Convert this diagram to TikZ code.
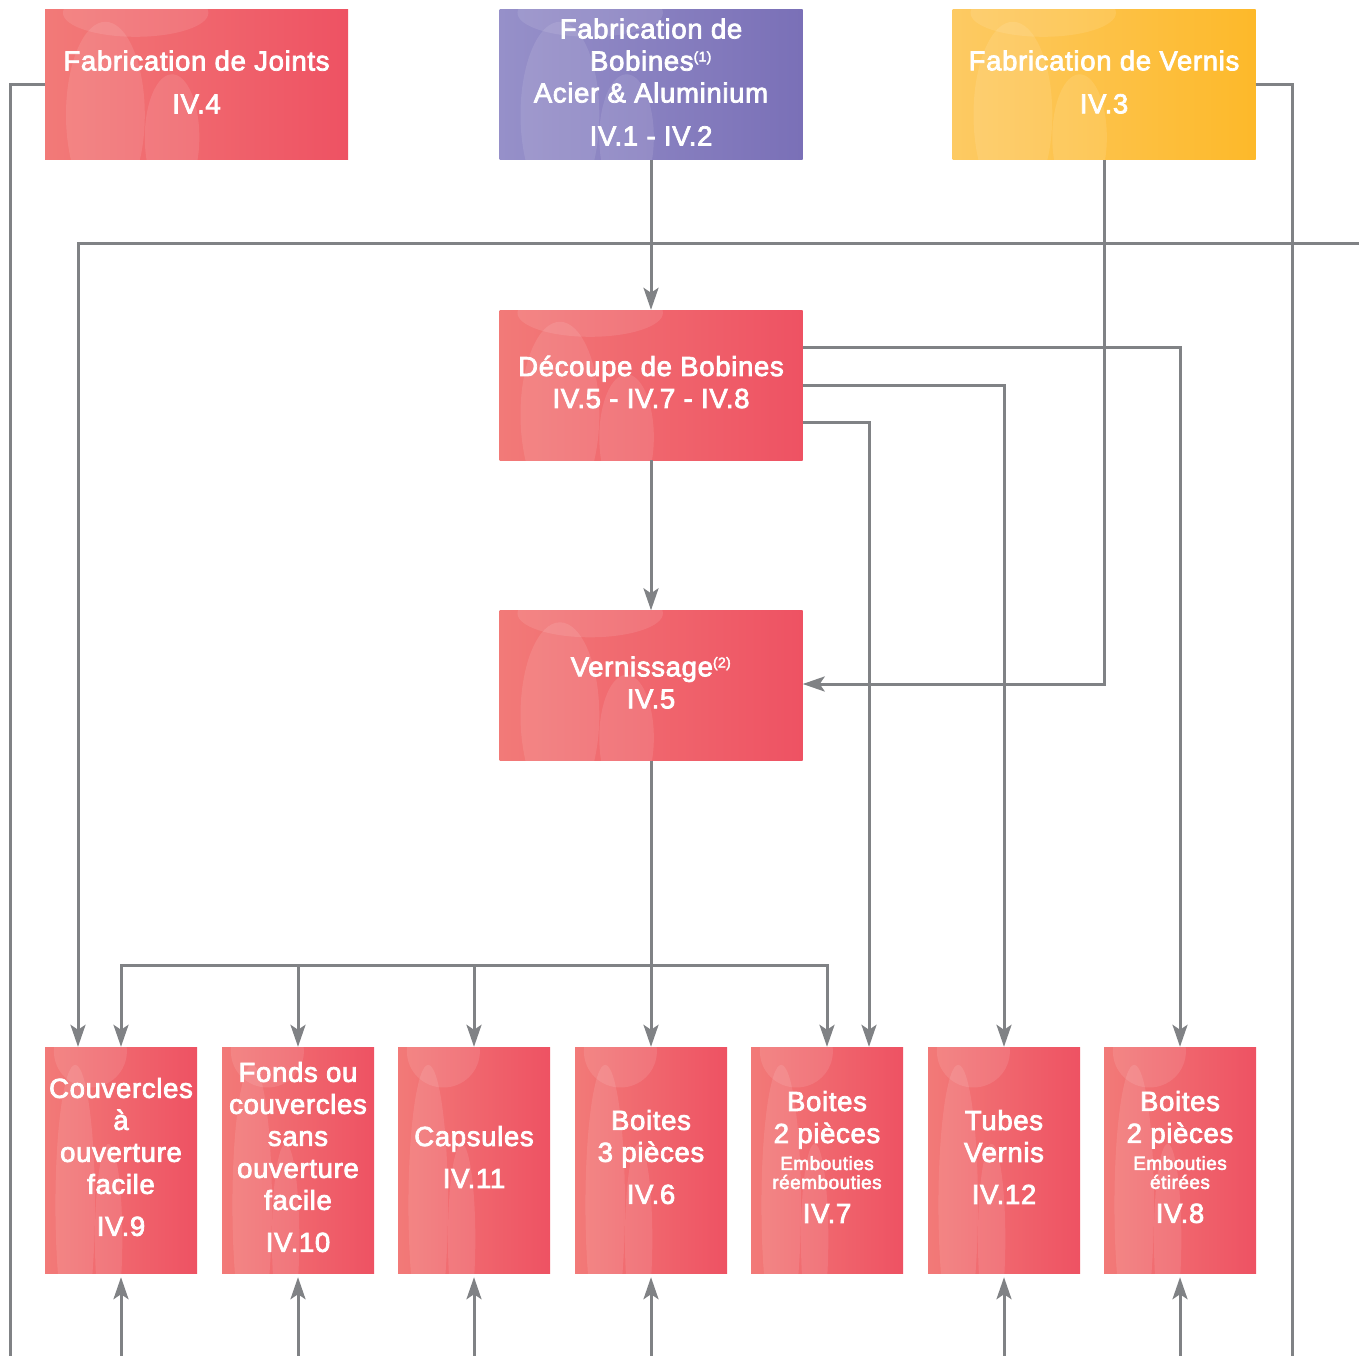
\documentclass[tikz,border=0pt]{standalone}
\usepackage{fontspec}
\setmainfont{Liberation Sans}
\newfontfamily\lab{Liberation Sans}[FakeBold=2.8, LetterSpace=2.5]
\usetikzlibrary{arrows.meta}
\definecolor{lin}{HTML}{808285}
\definecolor{redL}{HTML}{F27A78}
\definecolor{redR}{HTML}{EE5263}
\definecolor{purL}{HTML}{9690C9}
\definecolor{purR}{HTML}{7A70B7}
\definecolor{yelL}{HTML}{FDCA63}
\definecolor{yelR}{HTML}{FDB92A}
\tikzset{
  boxbase/.style={inner sep=0pt},
  redbox/.style={boxbase, shade, left color=redL, right color=redR},
  purbox/.style={boxbase, shade, left color=purL, right color=purR},
  yelbox/.style={boxbase, shade, left color=yelL, right color=yelR},
  wide/.style={minimum width=303pt, minimum height=150pt},
  tall/.style={minimum width=152pt, minimum height=226pt},
  txt/.style={inner sep=0pt, align=center, text=white,
    font=\lab\fontsize{27.5}{32}\selectfont},
  conn/.style={draw=lin, line width=3pt},
  arr/.style={conn, -{Stealth[length=22pt, width=15pt, inset=5pt]}},
  glow/.style={fill=white, opacity=0.10}
}
\newcommand{\smalltx}[1]{{\fontsize{19}{19}\selectfont #1}}
% texture: #1 node name, #2 width, #3 height
\newcommand{\texturebox}[3]{%
  \begin{scope}
    \clip (#1.north west) rectangle (#1.south east);
    \fill[glow] ([xshift=0.20*#2, yshift=-0.70*#3]#1.north west) ellipse [x radius=0.13*#2, y radius=0.62*#3];
    \fill[glow] ([xshift=0.42*#2, yshift=-0.85*#3]#1.north west) ellipse [x radius=0.09*#2, y radius=0.42*#3];
    \fill[glow] ([xshift=0.30*#2, yshift=-0.02*#3]#1.north west) ellipse [x radius=0.24*#2, y radius=0.16*#3];
  \end{scope}}
\begin{document}
\begin{tikzpicture}[x=1pt,y=-1pt]
\useasboundingbox (0,0) rectangle (1359,1356);
% top boxes
\node[redbox, wide] (joi) at (196.5,85) {};
\node[purbox, wide] (bob) at (651,85) {};
\node[yelbox, wide] (ver) at (1104,85) {};
\node[redbox, wide] (dec) at (651,385) {};
\node[redbox, wide] (vss) at (651,685.5) {};
% bottom boxes
\node[redbox, tall] (couv) at (121,1160) {};
\node[redbox, tall] (fond) at (298,1160) {};
\node[redbox, tall] (caps) at (474,1160) {};
\node[redbox, tall] (bt3) at (651,1160) {};
\node[redbox, tall] (bt7) at (827,1160) {};
\node[redbox, tall] (tub) at (1004,1160) {};
\node[redbox, tall] (bt8) at (1180,1160) {};
\foreach \n in {joi,bob,ver,dec,vss}{\texturebox{\n}{303pt}{150pt}}
\foreach \n in {couv,fond,caps,bt3,bt7,tub,bt8}{\texturebox{\n}{152pt}{226pt}}
% texts
\node[txt] (joi-t) at ([yshift=3pt]joi.center) {Fabrication de Joints\\[11pt]IV.4};
\node[txt] (bob-t) at ([yshift=3pt]bob.center) {Fabrication de\\Bobines\textsuperscript{\fontsize{14}{14}\selectfont(1)}\\Acier \& Aluminium\\[11pt]IV.1 - IV.2};
\node[txt] (ver-t) at ([yshift=3pt]ver.center) {Fabrication de Vernis\\[11pt]IV.3};
\node[txt] (dec-t) at ([yshift=3pt]dec.center) {Découpe de Bobines\\IV.5 - IV.7 - IV.8};
\node[txt] (vss-t) at ([yshift=3pt]vss.center) {Vernissage\textsuperscript{\fontsize{14}{14}\selectfont(2)}\\IV.5};
\node[txt] (couv-t) at ([yshift=3pt]couv.center) {Couvercles\\à\\ouverture\\facile\\[10pt]IV.9};
\node[txt] (fond-t) at ([yshift=3pt]fond.center) {Fonds ou\\couvercles\\sans\\ouverture\\facile\\[10pt]IV.10};
\node[txt] (caps-t) at ([yshift=3pt]caps.center) {Capsules\\[10pt]IV.11};
\node[txt] (bt3-t) at ([yshift=3pt]bt3.center) {Boites\\3 pièces\\[10pt]IV.6};
\node[txt] (bt7-t) at ([yshift=3pt]bt7.center) {Boites\\2 pièces\\[-5pt]\smalltx{Embouties}\\[-13pt]\smalltx{réembouties}\\[2pt]IV.7};
\node[txt] (tub-t) at ([yshift=3pt]tub.center) {Tubes\\Vernis\\[10pt]IV.12};
\node[txt] (bt8-t) at ([yshift=3pt]bt8.center) {Boites\\2 pièces\\[-5pt]\smalltx{Embouties}\\[-13pt]\smalltx{étirées}\\[2pt]IV.8};
% free ends
\coordinate (eJ) at (10,1356);
\coordinate (eV) at (1292,1356);
\coordinate (eR) at (1359,244);
\coordinate (hub) at (651,965);
\foreach \n/\x in {couv/121, fond/298, caps/474, bt3/651, tub/1004, bt8/1180}{
  \coordinate (up\n) at (\x,1356);
}
% connectors
\draw[conn] (joi.west) -| (eJ);
\draw[conn] (ver.east) -| (eV);
\draw[arr] (eR) -- (78,244) -- (couv.north -| 78,0);
\draw[arr] (bob.south) -- (dec.north);
\draw[arr] (dec.south) -- (vss.north);
\draw[arr] (ver.south) -- (ver.south |- 0,684) -- (vss.east |- 0,684);
\draw[arr] (dec.east |- 0,347) -| (bt8.north);
\draw[arr] (dec.east |- 0,385) -| (tub.north);
\draw[arr] (dec.east |- 0,422) -| (bt7.north -| 869,0);
\draw[arr] (vss.south) -- (bt3.north);
\draw[arr] (hub) -| (couv.north);
\draw[arr] (hub) -| (fond.north);
\draw[arr] (hub) -| (caps.north);
\draw[arr] (hub) -| (bt7.north);
\foreach \n in {couv, fond, caps, bt3, tub, bt8}{
  \draw[arr, shorten >=4pt] (up\n) -- (\n.south);
}
\end{tikzpicture}
\end{document}
